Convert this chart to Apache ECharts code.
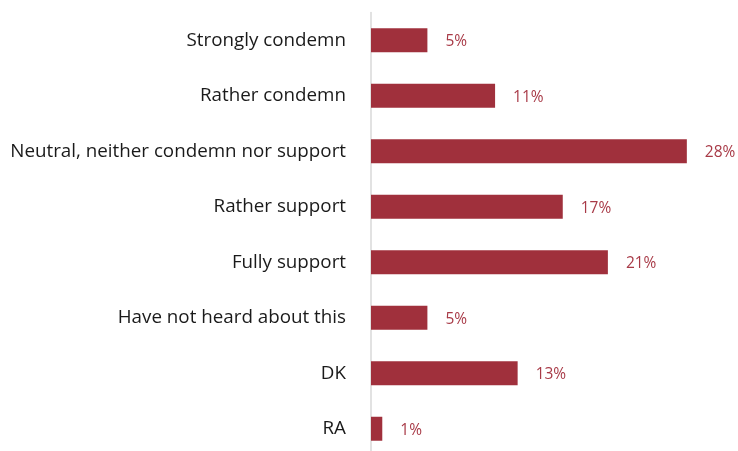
<!DOCTYPE html>
<html>
<head>
<meta charset="utf-8">
<script src="https://cdn.jsdelivr.net/npm/echarts@6/dist/echarts.min.js"></script>
<style>
  html, body { margin: 0; padding: 0; background: #ffffff; }
  #chart { width: 738px; height: 451px; }
</style>
</head>
<body>
<div id="chart"></div>
<script>
// Survey answers, listed top to bottom
const categories = [
  'Strongly condemn',
  'Rather condemn',
  'Neutral, neither condemn nor support',
  'Rather support',
  'Fully support',
  'Have not heard about this',
  'DK',
  'RA'
];
// Share of respondents, percent
const shares = [5, 11, 28, 17, 21, 5, 13, 1];

const barColor = '#A0303C';
const labelColor = '#A83A47';

const chart = echarts.init(document.getElementById('chart'), null, { renderer: 'canvas' });
chart.setOption({
  animation: false,
  backgroundColor: '#ffffff',
  grid: {
    left: 371, top: 12.5, width: 338.4, height: 444,
    containLabel: false,
    outerBoundsMode: 'none'
  },
  xAxis: {
    type: 'value',
    min: 0,
    max: 30,
    show: false
  },
  yAxis: {
    type: 'category',
    inverse: true,
    data: categories,
    axisLine: { show: true, lineStyle: { color: '#D9D9D9', width: 1.5 } },
    axisTick: { show: false },
    axisLabel: {
      margin: 25,
      padding: [3, 0, 0, 0],
      color: '#1a1a1a',
      fontFamily: 'Open Sans',
      fontSize: 18.8
    }
  },
  series: [{
    type: 'bar',
    data: shares,
    barWidth: 24,
    itemStyle: { color: barColor },
    label: {
      show: true,
      position: 'right',
      distance: 18,
      offset: [0, 1.5],
      formatter: p => p.value + '%',
      color: labelColor,
      fontFamily: 'Open Sans',
      fontSize: 15.5
    }
  }]
});
</script>
</body>
</html>
